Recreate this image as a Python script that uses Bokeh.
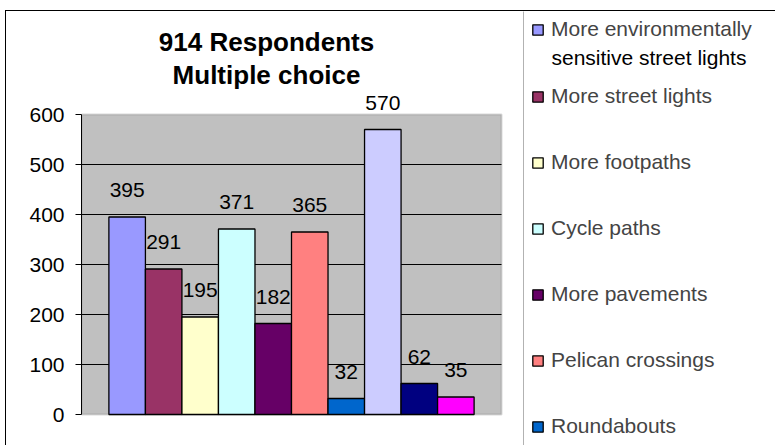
from bokeh.plotting import figure
from bokeh.models import (ColumnDataSource, LabelSet, Label, Legend, LegendItem,
                          Range1d, BoxAnnotation, FixedTicker)
from bokeh.embed import file_html
from bokeh.resources import INLINE
from bokeh.core.properties import value

# ---- data ----
title_lines = ["914 Respondents", "Multiple choice"]
legend_labels = [
    "More environmentally\nsensitive street lights",
    "More street lights",
    "More footpaths",
    "Cycle paths",
    "More pavements",
    "Pelican crossings",
    "Roundabouts",
]
counts = [395, 291, 195, 371, 182, 365, 32, 570, 62, 35]
colors = ["#9999FF", "#993366", "#FFFFCC", "#CCFFFF", "#660066",
          "#FF8080", "#0066CC", "#CCCCFF", "#000080", "#FF00FF"]
y_ticks = [0, 100, 200, 300, 400, 500, 600]

FONT_NAME = "Liberation Sans"

# Excel-style clustered column layout: one category, gap width 150%
n = len(counts)
gap = 1.5
bar_w = 1.0 / (n + gap)
xs = [-0.5 + gap * bar_w / 2 + (i + 0.5) * bar_w for i in range(n)]

source = ColumnDataSource(dict(x=xs, count=counts, color=colors,
                               label=[str(c) for c in counts]))

# canvas sits at page (6, 11) because of the css margin + border
W, H = 770, 435
FL = 75                   # frame left in canvas px
ZERO_Y = 403              # canvas y of the value 0
PX_PER_X = 420.0          # px for one category width
PX_PER_Y = 0.5            # px per count
x_end = -0.5 + (W - FL) / PX_PER_X
y_start = -(H - ZERO_Y) / PX_PER_Y
y_end = ZERO_Y / PX_PER_Y

p = figure(width=W, height=H, x_range=Range1d(-0.5, x_end), y_range=Range1d(y_start, y_end),
           output_backend="svg", toolbar_location=None,
           min_border_left=FL, min_border_right=0,
           min_border_top=0, min_border_bottom=0)
p.styles = {"margin-left": "5px", "margin-top": "10px",
            "border-left": "1px solid black", "border-top": "1px solid black"}

p.background_fill_color = "white"
p.border_fill_color = "white"
p.outline_line_color = None
p.xgrid.visible = False
p.ygrid.visible = False
p.xaxis.visible = False

p.yaxis.ticker = FixedTicker(ticks=y_ticks)
p.yaxis.bounds = (y_ticks[0], y_ticks[-1])
p.yaxis.major_tick_out = 6
p.yaxis.major_tick_in = 0
p.yaxis.minor_tick_line_color = None
p.yaxis.axis_line_color = "black"
p.yaxis.major_tick_line_color = "black"
p.yaxis.major_label_text_font = FONT_NAME
p.yaxis.major_label_text_font_size = "21px"
p.yaxis.major_label_text_color = "black"
p.yaxis.major_label_standoff = 11

# plot area (grey) and gridlines
p.add_layout(BoxAnnotation(left=-0.5, right=0.5, bottom=y_ticks[0], top=y_ticks[-1],
                           fill_color="#C0C0C0", fill_alpha=1,
                           line_color="#808080", line_width=2, level="image"))
grid = p.segment(x0=-0.5, x1=0.5, y0=y_ticks[1:-1], y1=y_ticks[1:-1],
                 line_color="black", line_width=1)
grid.level = "underlay"

r = p.vbar(x="x", top="count", width=bar_w, bottom=0, source=source,
           fill_color="color", line_color="black", line_width=1.3)

labels = LabelSet(x="x", y="count", text="label", source=source,
                  text_align="center", text_baseline="middle", y_offset=27,
                  text_font=value(FONT_NAME), text_font_size=value("21px"),
                  text_color="black")
p.add_layout(labels)

# title (positions relative to frame bottom-left, in px)
for txt, ty in zip(title_lines, [405, 372]):
    p.add_layout(Label(x=185, y=ty, x_units="screen", y_units="screen", text=txt,
                       text_align="center", text_baseline="middle",
                       text_font=FONT_NAME, text_font_style="bold",
                       text_font_size="26px", text_color="black"))

# legend separator
p.add_layout(BoxAnnotation(left=442, right=5000, top=5000, bottom=-5000,
                           left_units="screen", right_units="screen",
                           top_units="screen", bottom_units="screen",
                           fill_alpha=0, line_color="black", line_width=1))

def make_legend(items, loc):
    lg = Legend(items=items, location=loc, orientation="vertical")
    lg.border_line_color = None
    lg.background_fill_alpha = 0
    lg.padding = 0
    lg.margin = 0
    lg.glyph_width = 13
    lg.glyph_height = 13
    lg.label_standoff = 7
    lg.label_text_font = FONT_NAME
    lg.label_text_font_size = "21px"
    lg.label_height = 24
    lg.spacing = 42
    return lg

# first entry wraps onto two lines; swatch sits on the first line (Excel style)
first_line, second_line = legend_labels[0].split("\n")
# location = bottom-left corner of each legend, relative to frame bottom-left
p.add_layout(make_legend([LegendItem(label=first_line, renderers=[r], index=0)], (450, 405)))
p.add_layout(Label(x=470, y=389, x_units="screen", y_units="screen", text=second_line,
                   text_align="left", text_baseline="middle",
                   text_font=FONT_NAME, text_font_size="21px", text_color="black"))
p.add_layout(make_legend([LegendItem(label=legend_labels[i], renderers=[r], index=i)
                          for i in range(1, 7)], (450, 8)))

open("out.html", "w").write(file_html(p, INLINE))
